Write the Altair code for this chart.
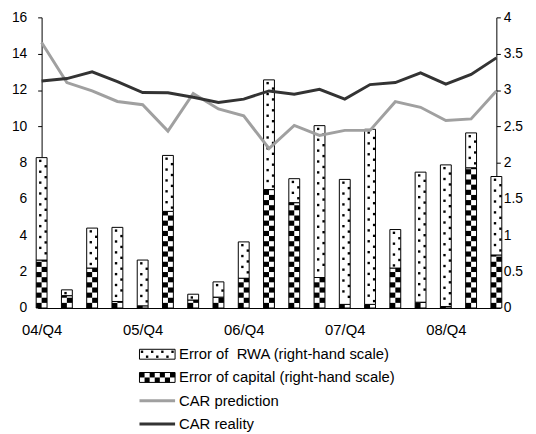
"Dual-axis chart: CAR prediction vs reality with stacked error bars"

import math
import pandas as pd
import altair as alt

quarters = ["04/Q4", "05/Q1", "05/Q2", "05/Q3", "05/Q4", "06/Q1", "06/Q2",
            "06/Q3", "06/Q4", "07/Q1", "07/Q2", "07/Q3", "07/Q4", "08/Q1",
            "08/Q2", "08/Q3", "08/Q4", "09/Q1", "09/Q2"]

# right-hand scale
err_capital = [0.66, 0.17, 0.55, 0.09, 0.03, 1.33, 0.11, 0.15, 0.41, 1.63,
               1.45, 0.42, 0.05, 0.05, 0.55, 0.08, 0.02, 1.93, 0.73]
err_rwa = [1.41, 0.08, 0.55, 1.02, 0.63, 0.77, 0.08, 0.21, 0.50, 1.51,
           0.33, 2.09, 1.72, 2.41, 0.53, 1.79, 1.95, 0.48, 1.08]

# left-hand scale
car_prediction = [14.62, 12.41, 11.95, 11.37, 11.19, 9.74, 11.81, 10.96, 10.58,
                  8.78, 10.05, 9.50, 9.78, 9.78, 11.36, 11.05, 10.32, 10.41, 11.95]
car_reality = [12.50, 12.63, 13.00, 12.46, 11.86, 11.85, 11.60, 11.32, 11.50,
               11.95, 11.77, 12.04, 11.50, 12.30, 12.41, 12.95, 12.32, 12.86, 13.77]

legend_labels = ["Error of \u00a0RWA (right-hand scale)",
                 "Error of capital (right-hand scale)",
                 "CAR prediction", "CAR reality"]

FONT = "Liberation Sans"
W, H = 460, 294
N = len(quarters)
x_px = W / (N - 1)      # pixels per quarter
y_px = H / 4            # pixels per unit of right-hand scale
half = 5.5 / x_px       # half bar width, in quarters
cell = 5.2 / y_px       # checker cell height
dot_step = 5.5 / y_px
dot_w = 2.4 / x_px
dot_h = 2.4 / y_px

seg_rows, chk_rows, dot_rows = [], [], []
for i, (cap, rwa) in enumerate(zip(err_capital, err_rwa)):
    top = cap + rwa
    seg_rows.append({"x0": i - half, "x1": i + half, "y0": 0, "y1": cap})
    seg_rows.append({"x0": i - half, "x1": i + half, "y0": cap, "y1": top})
    for k in range(math.ceil(cap / cell)):
        y0, y1 = k * cell, min((k + 1) * cell, cap)
        for col in (0, 1):
            if (k + col) % 2 == 0:
                x0 = i - half + col * half
                chk_rows.append({"x0": x0, "x1": x0 + half, "y0": y0, "y1": y1})
    k = 0
    while cap + (k + 1) * dot_step < top:
        yc = top - (k + 0.6) * dot_step
        xc = i - half + (0.75 if k % 2 == 0 else 1.75) * half
        dot_rows.append({"x0": xc - dot_w / 2, "x1": xc + dot_w / 2,
                         "y0": yc - dot_h / 2, "y1": yc + dot_h / 2})
        k += 1

seg = pd.DataFrame(seg_rows)
chk = pd.DataFrame(chk_rows)
dots = pd.DataFrame(dot_rows)

lines_df = pd.DataFrame({
    "idx": list(range(N)) * 2,
    "value": car_prediction + car_reality,
    "series": ["CAR prediction"] * N + ["CAR reality"] * N,
})

label_js = "[" + ",".join(f"'{q}'" for q in quarters) + "]"
x_scale = alt.Scale(domain=[0, N - 1], nice=False, zero=False)
y_right = alt.Scale(domain=[0, 4], nice=False)
y_left = alt.Scale(domain=[0, 16], nice=False)

x_axis = alt.Axis(values=[0, 4, 8, 12, 16], labelExpr=f"{label_js}[datum.value]",
                  ticks=False, grid=False, title=None, labelPadding=15,
                  labelFontSize=15, labelFlush=False)
right_axis = alt.Axis(orient="right", values=[0, 0.5, 1, 1.5, 2, 2.5, 3, 3.5, 4],
                      format="~g", grid=False, title=None, tickSize=4,
                      labelPadding=3)
left_axis = alt.Axis(orient="left", values=list(range(0, 17, 2)),
                     grid=False, title=None, tickSize=4, labelPadding=11)


def bar_rect(df, **mark):
    return alt.Chart(df).mark_rect(**mark).encode(
        x=alt.X("x0:Q", scale=x_scale, axis=x_axis), x2="x1",
        y=alt.Y("y0:Q", scale=y_right, axis=right_axis), y2="y1")


bars = alt.layer(
    bar_rect(seg, fill="white", stroke="black", strokeWidth=1),
    bar_rect(chk, fill="black"),
    bar_rect(dots, fill="black"),
)

lines = alt.Chart(lines_df).mark_line(strokeWidth=3).encode(
    x=alt.X("idx:Q", scale=x_scale, axis=x_axis),
    y=alt.Y("value:Q", scale=y_left, axis=left_axis),
    color=alt.Color("series:N", legend=None,
                    scale=alt.Scale(domain=legend_labels[2:],
                                    range=["#a0a0a0", "#333333"])))

main = alt.layer(bars, lines).resolve_scale(y="independent").properties(width=W, height=H)

# legend drawn as its own small view below the plot
LW, LH = W, 94
row_h = LH / 4
sw0, sw1, text_x = 99, 135, 139
leg_rows, leg_chk, leg_dot, leg_line, leg_text = [], [], [], [], []
for r, lab in enumerate(legend_labels):
    yc = (r + 0.5) * row_h
    leg_text.append({"x": text_x, "y": yc, "label": lab})
    if r < 2:
        leg_rows.append({"x0": sw0, "x1": sw1, "y0": yc - 5, "y1": yc + 5})
        ncol = 7
        cw = (sw1 - sw0) / ncol
        for c in range(ncol):
            for rr in (0, 1):
                if r == 1 and (c + rr) % 2 == 0:
                    leg_chk.append({"x0": sw0 + c * cw, "x1": sw0 + (c + 1) * cw,
                                    "y0": yc - 5 + rr * 5, "y1": yc + rr * 5})
                if r == 0 and (c + rr) % 2 == 0:
                    xc = sw0 + (c + 0.5) * cw
                    yy = yc - 2.5 + rr * 5
                    leg_dot.append({"x0": xc - 1.2, "x1": xc + 1.2,
                                    "y0": yy - 1.2, "y1": yy + 1.2})
    else:
        leg_line.append({"x0": sw0, "x1": sw1, "y": yc, "series": lab})

lx = alt.Scale(domain=[0, LW], nice=False, zero=False)
ly = alt.Scale(domain=[0, LH], nice=False, reverse=True)


def leg_rect(df, **mark):
    return alt.Chart(pd.DataFrame(df)).mark_rect(**mark).encode(
        x=alt.X("x0:Q", scale=lx, axis=None), x2="x1",
        y=alt.Y("y0:Q", scale=ly, axis=None), y2="y1")


leg = alt.layer(
    leg_rect(leg_rows, fill="white", stroke="black", strokeWidth=1),
    leg_rect(leg_chk, fill="black"),
    leg_rect(leg_dot, fill="black"),
    alt.Chart(pd.DataFrame(leg_line)).mark_rule(strokeWidth=3).encode(
        x=alt.X("x0:Q", scale=lx, axis=None), x2="x1",
        y=alt.Y("y:Q", scale=ly, axis=None),
        color=alt.Color("series:N", legend=None,
                        scale=alt.Scale(domain=legend_labels[2:],
                                        range=["#a0a0a0", "#333333"]))),
    alt.Chart(pd.DataFrame(leg_text)).mark_text(
        align="left", baseline="middle", font=FONT, fontSize=15, color="black").encode(
        x=alt.X("x:Q", scale=lx, axis=None),
        y=alt.Y("y:Q", scale=ly, axis=None),
        text="label:N"),
).resolve_scale(color="independent").properties(width=LW, height=LH)

chart = alt.vconcat(main, leg, spacing=5).properties(
    padding={"left": 3, "top": 0, "right": 5, "bottom": 0}
).configure_view(stroke=None).configure_axis(
    labelFont=FONT, labelFontSize=14, labelColor="black",
    domainColor="black", tickColor="black", domainWidth=1
)

chart.save("out.html", embed_options={"renderer": "svg", "actions": False})
